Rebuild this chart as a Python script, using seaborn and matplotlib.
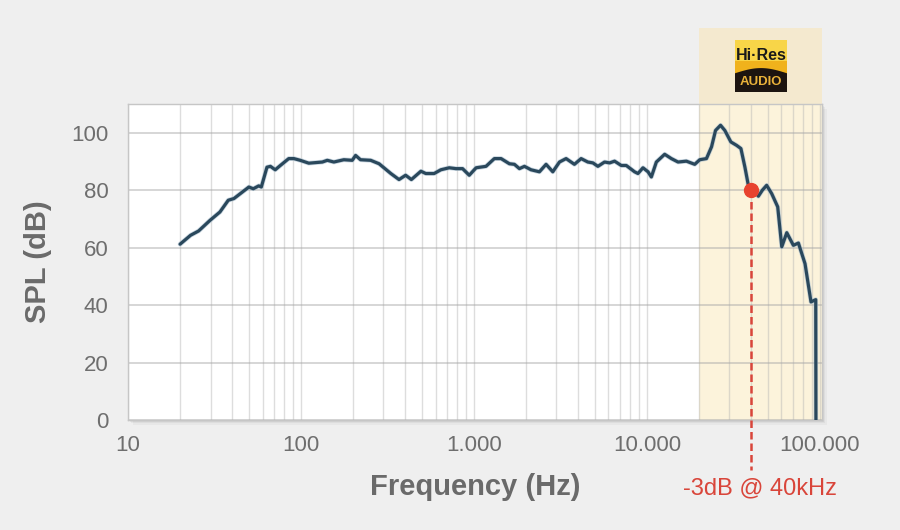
import numpy as np
import pandas as pd
import seaborn as sns
import matplotlib.pyplot as plt
import matplotlib.ticker as mticker
import matplotlib.patheffects as pe
from matplotlib.patches import Rectangle, Polygon
from matplotlib.transforms import blended_transform_factory

# frequency response
freq_hz = [20, 23, 25.6, 29.8, 34, 38, 41, 50, 53, 57, 59, 63.6, 66.6, 71, 76, 85, 91,
           99, 111, 133, 142, 155, 177, 198, 207, 221, 253, 283, 331, 369, 403, 435,
           494, 527, 589, 644, 720, 787, 860, 940, 1030, 1175, 1313, 1436, 1604, 1715,
           1833, 1960, 2140, 2393, 2615, 2859, 3124, 3413, 3813, 4169, 4557, 4877, 5213,
           5694, 6092, 6509, 7113, 7603, 8494, 8885, 9500, 10160, 10620, 11350, 12680,
           13860, 15150, 16930, 18920, 20230, 22120, 23670, 24960, 26680, 28250, 30610,
           33040, 34990, 36910, 38630, 41290, 44150, 46560, 49300, 52720, 57110, 60290,
           64440, 70370, 75220, 82170, 88960, 94760, 95000]
spl_db = [61.2, 64.3, 65.8, 69.5, 72.4, 76.5, 77.1, 81.1, 80.5, 81.5, 81.1, 88.0, 88.3,
          87.1, 88.6, 91.0, 91.0, 90.4, 89.4, 89.8, 90.4, 89.8, 90.6, 90.4, 92.1, 90.6,
          90.4, 89.2, 85.8, 83.7, 85.2, 83.7, 86.6, 85.8, 85.8, 87.1, 87.8, 87.5, 87.5,
          85.2, 87.8, 88.3, 91.0, 91.0, 89.2, 89.0, 87.5, 88.3, 87.1, 86.4, 89.0, 86.4,
          89.8, 91.0, 89.0, 91.0, 89.8, 89.5, 88.3, 89.8, 89.5, 90.1, 88.6, 88.6, 86.4,
          85.8, 87.8, 86.4, 84.6, 89.8, 92.5, 91.0, 89.8, 90.1, 89.0, 90.6, 91.0, 95.1,
          100.8, 102.6, 100.8, 96.8, 95.6, 94.5, 88.0, 81.7, 80.3, 77.9, 80.0, 81.7, 78.8,
          74.2, 60.3, 65.2, 60.8, 61.6, 54.4, 41.1, 41.9, 0.0]

x_ticks = [10, 100, 1000, 10000, 100000]
x_tick_labels = ['10', '100', '1.000', '10.000', '100.000']
y_ticks = [0, 20, 40, 60, 80, 100]

hires_start = 20000
cutoff_hz = 40000
cutoff_db = 80
cutoff_label = '-3dB @ 40kHz'

df = pd.DataFrame({'freq': freq_hz, 'spl': spl_db})

sns.set_style('white')
plt.rcParams['font.family'] = ['Liberation Sans', 'DejaVu Sans']

fig = plt.figure(figsize=(9, 5.3), dpi=100, facecolor='#efefef')
ax = fig.add_axes([128 / 900, 1 - 420 / 530, 694 / 900, 316 / 530])
ax.set_facecolor('white')

sns.lineplot(data=df, x='freq', y='spl', ax=ax, color='#2a485c', lw=2.3, sort=False,
             zorder=4,
             path_effects=[pe.Stroke(linewidth=3.4, foreground='#a9bfcf', alpha=0.6), pe.Normal()])

ax.set_xscale('log')
ax.set_xlim(10, 103000)
ax.set_ylim(0, 110)
ax.set_xticks(x_ticks)
ax.set_xticklabels(x_tick_labels)
ax.xaxis.set_minor_locator(mticker.LogLocator(base=10, subs=np.arange(2, 10)))
ax.xaxis.set_minor_formatter(mticker.NullFormatter())
ax.set_yticks(y_ticks)
ax.grid(which='both', axis='x', color='#b5b5b5', alpha=0.45, lw=1)
ax.grid(which='major', axis='y', color='#a8a8a8', alpha=0.55, lw=1.2)
ax.set_axisbelow(True)
ax.tick_params(which='both', length=0, labelsize=16, labelcolor='#6e6e6e')
ax.tick_params(axis='x', pad=11)
ax.tick_params(axis='y', pad=14)
for s in ax.spines.values():
    s.set_color('#c6c6c6')
    s.set_linewidth(1)

ax.set_xlabel('Frequency (Hz)', fontsize=21, fontweight='bold', color='#6a6a6a', labelpad=12)
ax.set_ylabel('SPL (dB)', fontsize=21, fontweight='bold', color='#6a6a6a', labelpad=14)

# soft shadow behind the plot frame
for i, a in enumerate([0.05, 0.04, 0.03]):
    off = (i + 1) * 1.5
    fig.patches.append(Rectangle(((128 + off) / 900, 1 - (420 + off) / 530), 694 / 900, 316 / 530,
                                 transform=fig.transFigure, facecolor='black', alpha=a,
                                 edgecolor='none', zorder=-2))

# hi-res band, inside and above the axes
ax.axvspan(hires_start, 103000, color='#fcf3db', zorder=0, lw=0)
fig.canvas.draw()
x0 = fig.transFigure.inverted().transform(ax.transData.transform((hires_start, 0)))[0]
x1 = ax.get_position().x1
fig.patches.append(Rectangle((x0, 1 - 420 / 530), x1 - x0, 392 / 530,
                             transform=fig.transFigure, facecolor='#f4e9cf',
                             edgecolor='none', zorder=-1))

# -3dB marker and dashed drop line
trans = blended_transform_factory(ax.transData, ax.transAxes)
ax.plot([cutoff_hz, cutoff_hz], [cutoff_db / 110, -0.158], transform=trans, clip_on=False,
        color='#d9453a', lw=1.8, dashes=(3, 1.6), zorder=5)
ax.plot([cutoff_hz], [cutoff_db], 'o', color='#e8432f', ms=10, zorder=6)
fig.text(760 / 900, 1 - 488 / 530, cutoff_label, ha='center', va='center',
         fontsize=17, color='#d9453a')

# Hi-Res Audio logo
lx, ly, lw_, lh = 735 / 900, 1 - 92 / 530, 52 / 900, 52 / 530
fig.patches.append(Rectangle((lx, ly), lw_, lh, transform=fig.transFigure,
                             facecolor='#f0b21c', edgecolor='none', zorder=1))
fig.patches.append(Rectangle((lx, ly + lh * 0.6), lw_, lh * 0.4, transform=fig.transFigure,
                             facecolor='#f8d548', edgecolor='none', zorder=1))
arc_x = np.linspace(lx, lx + lw_, 30)
arc_y = ly + lh * 0.36 + lh * 0.1 * np.sin(np.linspace(0, np.pi, 30))
fig.patches.append(Polygon(np.column_stack([np.r_[arc_x, lx + lw_, lx], np.r_[arc_y, ly, ly]]),
                           closed=True, transform=fig.transFigure, facecolor='#1c1410',
                           edgecolor='none', zorder=2))
fig.text(lx + lw_ / 2, 1 - 56 / 530, 'Hi·Res', ha='center', va='center', fontsize=11.5,
         fontweight='bold', color='#1a1a1a')
fig.text(lx + lw_ / 2, 1 - 82 / 530, 'AUDIO', ha='center', va='center', fontsize=9.5,
         fontweight='bold', color='#e9b23a')

fig.savefig('out.png', dpi=100, facecolor=fig.get_facecolor())
